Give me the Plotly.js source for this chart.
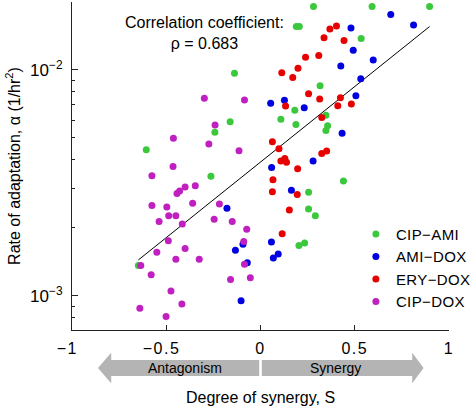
<!DOCTYPE html>
<html>
<head>
<meta charset="utf-8">
<script src="https://cdn.plot.ly/plotly-3.0.1.min.js"></script>
<style>
html,body{margin:0;padding:0;background:#fff;}
#chart{width:475px;height:418px;}
#chart .xtick text{letter-spacing:1.5px;}
#chart .legendtext{letter-spacing:0.4px;}
</style>
</head>
<body>
<div id="chart"></div>
<script>
// ---- data ----
const seriesNames = ["CIP\u2212AMI", "AMI\u2212DOX", "ERY\u2212DOX", "CIP\u2212DOX"];
const seriesColors = ["#3cc83c", "#0000e0", "#e60000", "#c020c0"];

const cipAmiS = [-0.138,-0.161,-0.242,-0.606,-0.263,-0.648,0.281,0.592,0.897,0.190,0.206,0.534,0.316,0.182,0.347,0.108,0.188,0.356,0.347,0.440,0.255,0.255,0.291,0.204,0.234];
const cipAmiA = [0.00967,0.0059,0.0053,0.00443,0.00338,0.00136,0.0191,0.0191,0.0191,0.01557,0.01557,0.01377,0.00851,0.00663,0.0063,0.00605,0.00574,0.00566,0.0054,0.00322,0.00287,0.00242,0.00226,0.00167,0.00171];

const amiDoxS = [0.054,0.059,-0.178,-0.093,0.058,-0.133,0.068,-0.070,-0.103,0.691,0.812,0.480,0.492,0.598,0.426,0.532,0.506,0.127,0.232,0.433,0.279,0.164,0.094];
const amiDoxA = [0.00712,0.0037,0.00244,0.00169,0.00173,0.00159,0.00147,0.0014,0.00095,0.0176,0.0158,0.01535,0.01222,0.01107,0.01042,0.00915,0.00769,0.00734,0.00681,0.00525,0.00395,0.00293,0.00153];

const eryDoxS = [0.063,0.066,0.063,0.403,0.368,0.337,0.443,0.239,0.309,0.199,0.113,0.171,0.255,0.314,0.424,0.133,0.410,0.482,0.325,0.098,0.108,0.129,0.138,0.325,0.351,0.197,0.195,0.153,0.115];
const eryDoxA = [0.00481,0.00326,0.00289,0.01567,0.0152,0.0139,0.0135,0.01138,0.0116,0.01018,0.00973,0.00925,0.00785,0.00744,0.00753,0.00693,0.00695,0.00707,0.00616,0.00448,0.00395,0.00405,0.0039,0.00427,0.00438,0.00365,0.00281,0.0024,0.00188];

const cipDoxS = [-0.298,-0.085,-0.241,-0.462,-0.274,-0.114,-0.464,-0.576,-0.346,-0.400,-0.429,-0.443,-0.576,-0.497,-0.360,-0.218,-0.487,-0.449,-0.538,-0.415,-0.246,-0.150,-0.073,-0.489,-0.089,-0.550,-0.400,-0.449,-0.325,-0.635,-0.085,-0.580,-0.159,-0.054,-0.475,-0.417,-0.640,-0.501];
const cipDoxA = [0.0075,0.00736,0.0057,0.00498,0.0047,0.00439,0.00374,0.0034,0.00307,0.00303,0.00291,0.00284,0.00251,0.00247,0.00257,0.00255,0.00226,0.00226,0.00213,0.00208,0.00218,0.00213,0.00197,0.00175,0.00174,0.00156,0.00162,0.00145,0.00145,0.00136,0.00138,0.00124,0.00118,0.0012,0.00105,0.00092,0.00088,0.00081];

// regression line endpoints
const fitS = [-0.648, 0.897];
const fitA = [0.00144, 0.01557];

// tick labels
const xTickVals = [-1, -0.5, 0, 0.5, 1];
const xTickText = ["\u22121\u2002", "\u22120.5\u2002", "0", "0.5", "1"];
const yTickVals = [0.001, 0.01];
const yTickText = ["10<sup>\u22123</sup>", "10<sup>\u22122</sup>"];

const annText = "Correlation coefficient:<br>\u03c1 = 0.683";
const arrowLabels = ["Antagonism", "Synergy"];

// ---- build ----
const FONT = "Liberation Sans, Arial, Helvetica, sans-serif";
const xs = [cipAmiS, amiDoxS, eryDoxS, cipDoxS];
const ys = [cipAmiA, amiDoxA, eryDoxA, cipDoxA];

// minor tick positions of the log axis (2..9 x 10^k)
const minorVals = [];
for (let k = -4; k <= -2; k++) {
  for (let m = 2; m <= 9; m++) minorVals.push(m * Math.pow(10, k));
}

const traces = [{
  x: fitS, y: fitA, mode: "lines", type: "scatter",
  line: {color: "#000", width: 1}, showlegend: false, hoverinfo: "skip"
}];
for (let i = 0; i < 4; i++) {
  traces.push({
    x: xs[i], y: ys[i], mode: "markers", type: "scatter", name: seriesNames[i],
    marker: {color: seriesColors[i], size: 7, line: {width: 0}}
  });
}

const arrowFill = "#b4b4b4";
const bt = -0.0915, bb = -0.1402, ht = -0.069, hb = -0.1625, hc = -0.1159;
const shapes = [
  {type: "path", xref: "x", yref: "paper", fillcolor: arrowFill, line: {width: 0},
   path: `M -0.007,${bt} L -0.792,${bt} L -0.792,${ht} L -0.862,${hc} L -0.792,${hb} L -0.792,${bb} L -0.007,${bb} Z`},
  {type: "path", xref: "x", yref: "paper", fillcolor: arrowFill, line: {width: 0},
   path: `M 0.007,${bt} L 0.805,${bt} L 0.805,${ht} L 0.865,${hc} L 0.805,${hb} L 0.805,${bb} L 0.007,${bb} Z`}
];

const layout = {
  width: 475, height: 418,
  margin: {l: 72, r: 21, t: 2, b: 88},
  paper_bgcolor: "#fff", plot_bgcolor: "#fff",
  font: {family: FONT, color: "#000", size: 15},
  showlegend: true,
  legend: {x: 0.753, y: 0.342, xanchor: "left", yanchor: "top",
           font: {size: 15, family: FONT}, bgcolor: "rgba(0,0,0,0)",
           itemwidth: 30, tracegroupgap: 0},
  xaxis: {
    range: [-1, 1], tickmode: "array", tickvals: xTickVals, ticktext: xTickText,
    ticks: "inside", ticklen: 5, tickwidth: 1, tickcolor: "#222", showline: true, linecolor: "#222",
    linewidth: 1, mirror: false, showgrid: false, zeroline: false,
    tickfont: {size: 16}, ticklabelstandoff: 4,
    title: {text: "Degree of synergy, S", font: {size: 16}, standoff: 35}
  },
  yaxis: {
    type: "log", range: [Math.log10(0.000705), Math.log10(0.02)],
    tickmode: "array", tickvals: yTickVals, ticktext: yTickText,
    ticks: "inside", ticklen: 6, tickwidth: 1, tickcolor: "#222", showline: true, linecolor: "#222",
    linewidth: 1, mirror: false, showgrid: false, zeroline: false,
    tickfont: {size: 17}, ticklabelstandoff: 5,
    minor: {tickmode: "array", tickvals: minorVals, ticks: "inside", ticklen: 3,
            tickwidth: 1, tickcolor: "#222", showgrid: false},
    title: {text: "Rate of adaptation, \u03b1 (1/hr<sup>2</sup>)", font: {size: 16}, standoff: 5}
  },
  shapes: shapes,
  annotations: [
    {text: annText, xref: "paper", yref: "paper", x: 0.351, y: 0.907,
     xanchor: "center", yanchor: "middle", showarrow: false, font: {size: 16}},
    {text: arrowLabels[0], xref: "x", yref: "paper", x: -0.40, y: -0.117,
     xanchor: "center", yanchor: "middle", showarrow: false, font: {size: 14}},
    {text: arrowLabels[1], xref: "x", yref: "paper", x: 0.398, y: -0.117,
     xanchor: "center", yanchor: "middle", showarrow: false, font: {size: 14}}
  ]
};

Plotly.newPlot("chart", traces, layout, {staticPlot: true, displayModeBar: false});
</script>
</body>
</html>
